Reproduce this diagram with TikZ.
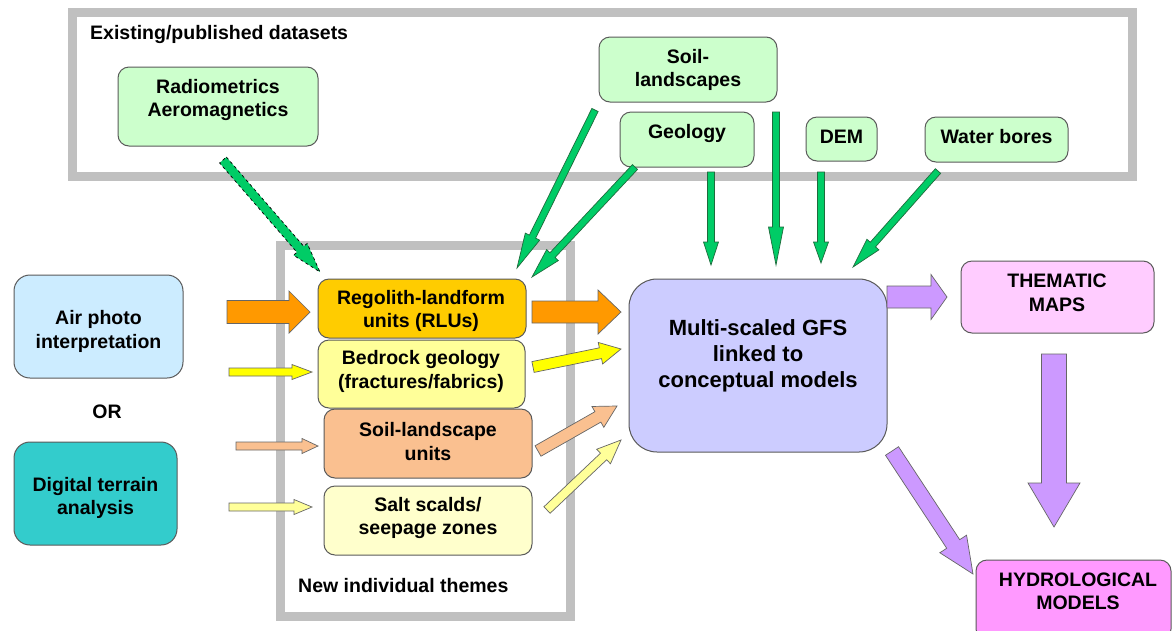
\documentclass[tikz,border=0pt]{standalone}
\usepackage{fontspec}
\setmainfont{Liberation Sans}
\usetikzlibrary{calc}
\definecolor{lgreen}{HTML}{CCFFCC}
\definecolor{airblue}{HTML}{CCECFF}
\definecolor{teal2}{HTML}{33CCCC}
\definecolor{gold}{HTML}{FFCC00}
\definecolor{lyellow}{HTML}{FFFF99}
\definecolor{peach}{HTML}{FAC090}
\definecolor{pale}{HTML}{FFFFCC}
\definecolor{lavender}{HTML}{CCCCFF}
\definecolor{pink1}{HTML}{FFCCFF}
\definecolor{pink2}{HTML}{FF99FF}
\definecolor{purp}{HTML}{CC99FF}
\definecolor{orng}{HTML}{FF9900}
\definecolor{yel}{HTML}{FFFF00}
\definecolor{grn}{HTML}{00CC66}
\definecolor{grndark}{HTML}{1E6B3C}
\definecolor{framegray}{HTML}{C0C0C0}
\definecolor{edge}{HTML}{5A5A5A}
\newcommand\blockarrow[6]{%
  \coordinate (bah) at ($(#3)!#6!(#2)$);
  \draw[#1] ($(#2)!#4!90:(#3)$) -- ($(bah)!#4!-90:(#2)$) -- ($(bah)!#5!-90:(#2)$)
    -- (#3) -- ($(bah)!#5!90:(#2)$) -- ($(bah)!#4!90:(#2)$) -- ($(#2)!#4!-90:(#3)$) -- cycle;
}
\tikzset{
  rbox/.style={draw=edge, line width=1pt, rounded corners=11pt, inner sep=0pt},
  txt/.style={font=\bfseries\fontsize{19.5}{23.5}\selectfont, align=center, inner sep=0pt},
  bigtxt/.style={font=\bfseries\fontsize{22}{26}\selectfont, align=center, inner sep=0pt},
  frame/.style={draw=framegray, line width=9pt, inner sep=0pt},
  arr/.style={draw=black!60, line width=0.7pt, line join=miter},
  garr/.style={arr, fill=grn, draw=grndark},
}
\begin{document}
\begin{tikzpicture}[x=1pt,y=-1pt]
\useasboundingbox (0,0) rectangle (1174,630);
\clip (0,0) rectangle (1174,630);
\fill[white] (0,0) rectangle (1174,630);

% frames
\node[frame, minimum width=1060pt, minimum height=164pt] (topframe) at (602.5,94.5) {};
\node[frame, minimum width=289.5pt, minimum height=370.5pt] (themeframe) at (425.25,430.75) {};
\node[txt, anchor=west] (existing) at (90,34) {Existing/published datasets};
\node[txt, anchor=west] (newthemes) at (298,586) {New individual themes};

% dataset boxes
\node[rbox, fill=lgreen, minimum width=200pt, minimum height=79pt] (radio) at (218,106.5) {};
\node[txt] (radiot) at (218,100) {Radiometrics\\Aeromagnetics};
\node[rbox, fill=lgreen, minimum width=178pt, minimum height=65pt] (soill) at (688,69.5) {};
\node[txt] (soillt) at (688,70) {Soil-\\landscapes};
\node[rbox, fill=lgreen, minimum width=134pt, minimum height=55pt] (geol) at (687,139.5) {};
\node[txt] (geolt) at (687,133) {Geology};
\node[rbox, fill=lgreen, minimum width=71pt, minimum height=44pt] (dem) at (841.5,139) {};
\node[txt] (demt) at (841.5,137) {DEM};
\node[rbox, fill=lgreen, minimum width=143pt, minimum height=45pt] (water) at (996.5,139.5) {};
\node[txt] (watert) at (996.5,137) {Water bores};

% left boxes
\node[rbox, rounded corners=16pt, fill=airblue, minimum width=169pt, minimum height=103pt] (air) at (98.5,326.5) {};
\node[txt] (airt) at (98.5,331.5) {Air photo\\interpretation};
\node[txt] (ort) at (107,412) {OR};
\node[rbox, rounded corners=16pt, fill=teal2, minimum width=163pt, minimum height=103pt] (dta) at (95.5,493.5) {};
\node[txt] (dtat) at (95.5,498) {Digital terrain\\analysis};

% theme boxes
\node[rbox, fill=gold, minimum width=208pt, minimum height=59pt] (rlu) at (422,308.5) {};
\node[txt] (rlut) at (421,311) {Regolith-landform\\units (RLUs)};
\node[rbox, fill=lyellow, minimum width=207pt, minimum height=68pt] (bed) at (421.5,374) {};
\node[txt] (bedt) at (421,371.5) {Bedrock geology\\(fractures/fabrics)};
\node[rbox, fill=peach, minimum width=208pt, minimum height=69pt] (slu) at (428,443.5) {};
\node[txt] (slut) at (428,441.5) {Soil-landscape\\units};
\node[rbox, fill=pale, minimum width=208pt, minimum height=69pt] (salt) at (428,520.5) {};
\node[txt] (saltt) at (428,518) {Salt scalds/\\seepage zones};

% outputs
\node[rbox, rounded corners=28pt, fill=lavender, minimum width=258pt, minimum height=173pt] (gfs) at (758,365.5) {};
\node[bigtxt] (gfst) at (758,356) {Multi-scaled GFS\\linked to\\conceptual models};
\node[rbox, fill=pink1, minimum width=193pt, minimum height=72pt] (them) at (1057.5,297) {};
\node[txt] (themt) at (1057,293) {THEMATIC\\MAPS};
\node[rbox, fill=pink2, minimum width=195pt, minimum height=80pt] (hydro) at (1073.5,600) {};
\node[txt] (hydrot) at (1078,591.5) {HYDROLOGICAL\\MODELS};

% arrow end points
\coordinate (o1s) at (227,312);  \coordinate (o1e) at (310,312);
\coordinate (o2s) at (532,312);  \coordinate (o2e) at (621,312);
\coordinate (y1s) at (229,372);  \coordinate (y1e) at (312,372);
\coordinate (y2s) at (533,367);  \coordinate (y2e) at (621,349);
\coordinate (p1s) at (236,446);  \coordinate (p1e) at (318,446);
\coordinate (p2s) at (538,451);  \coordinate (p2e) at (617,406);
\coordinate (l1s) at (229,507);  \coordinate (l1e) at (312,507);
\coordinate (l2s) at (547,510);  \coordinate (l2e) at (621,440);
\coordinate (g1s) at (223,160);  \coordinate (g1e) at (320,272);
\coordinate (g2s) at (595,110);  \coordinate (g2e) at (517,268);
\coordinate (g3s) at (635,167);  \coordinate (g3e) at (532,277);
\coordinate (g4s) at (711,172);  \coordinate (g4e) at (711,265);
\coordinate (g5s) at (776,112);  \coordinate (g5e) at (776,265);
\coordinate (g6s) at (821,172);  \coordinate (g6e) at (821,263);
\coordinate (g7s) at (938,171);  \coordinate (g7e) at (853,267);
\coordinate (v1s) at (887,297);  \coordinate (v1e) at (947,297);
\coordinate (v2s) at (1054,354); \coordinate (v2e) at (1054,527);
\coordinate (v3s) at (892,451);  \coordinate (v3e) at (973,574);

% input arrows
\blockarrow{arr, fill=orng}{o1s}{o1e}{11.5pt}{21pt}{21pt}
\blockarrow{arr, fill=orng}{o2s}{o2e}{11pt}{22pt}{23pt}
\blockarrow{arr, fill=yel}{y1s}{y1e}{4pt}{7.5pt}{20pt}
\blockarrow{arr, fill=yel}{y2s}{y2e}{5.5pt}{11pt}{21pt}
\blockarrow{arr, fill=peach}{p1s}{p1e}{4pt}{7.5pt}{16pt}
\blockarrow{arr, fill=peach}{p2s}{p2e}{6pt}{12pt}{22pt}
\blockarrow{arr, fill=lyellow}{l1s}{l1e}{4pt}{7.5pt}{18pt}
\blockarrow{arr, fill=lyellow}{l2s}{l2e}{4.5pt}{10pt}{24pt}

% green arrows
\blockarrow{garr, draw=black, dashed}{g1s}{g1e}{4.5pt}{9pt}{30pt}
\blockarrow{garr}{g2s}{g2e}{3.5pt}{8pt}{35pt}
\blockarrow{garr}{g3s}{g3e}{3.5pt}{8pt}{30pt}
\blockarrow{garr}{g4s}{g4e}{3.5pt}{7.5pt}{23pt}
\blockarrow{garr}{g5s}{g5e}{3.5pt}{7.5pt}{38pt}
\blockarrow{garr}{g6s}{g6e}{3.5pt}{7.5pt}{21pt}
\blockarrow{garr}{g7s}{g7e}{3.5pt}{8pt}{30pt}

% purple arrows
\blockarrow{arr, fill=purp}{v1s}{v1e}{11pt}{22.5pt}{16pt}
\blockarrow{arr, fill=purp}{v2s}{v2e}{12.5pt}{26pt}{44pt}
\blockarrow{arr, fill=purp}{v3s}{v3e}{7.8pt}{16pt}{36pt}
\end{tikzpicture}
\end{document}
